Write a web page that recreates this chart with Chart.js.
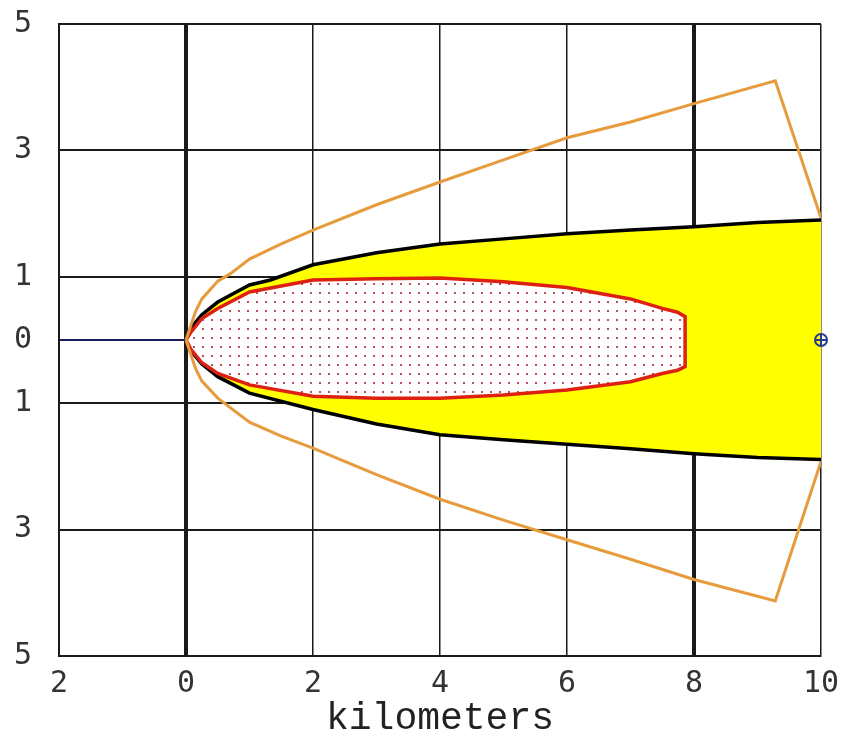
<!DOCTYPE html>
<html>
<head>
<meta charset="utf-8">
<script src="https://cdn.jsdelivr.net/npm/chart.js@4.4.1/dist/chart.umd.min.js"></script>
<style>
  html, body { margin: 0; padding: 0; background: #fff; }
  #wrap { width: 842px; height: 742px; }
</style>
</head>
<body>
<div id="wrap"><canvas id="chart" width="842" height="742"></canvas></div>
<script>
// tick positions (km)
const xTicks = [-2, 0, 2, 4, 6, 8, 10];
const yTicks = [-5, -3, -1, 0, 1, 3, 5];

// outer orange boundary
const orangeUpper = [[0,0],[0.15,0.45],[0.25,0.65],[0.5,0.93],[0.7,1.05],[1,1.28],[1.5,1.52],[2,1.74],[3,2.14],[4,2.5],[5,2.85],[6,3.2],[7,3.45],[8,3.74],[9.28,4.1],[10,1.93]];
const orangeLower = [[0,0],[0.15,-0.45],[0.25,-0.65],[0.5,-0.92],[1,-1.3],[1.5,-1.52],[2,-1.71],[3,-2.13],[4,-2.52],[5,-2.85],[6,-3.16],[7,-3.47],[8,-3.79],[9.28,-4.13],[10,-1.92]];

// black edges of the yellow zone
const blackUpper = [[0,0],[0.1,0.22],[0.25,0.4],[0.5,0.6],[1,0.87],[1.33,0.95],[2,1.19],[3,1.38],[4,1.52],[5,1.6],[6,1.68],[7,1.74],[8,1.79],[9,1.86],[10,1.9]];
const blackLower = [[0,0],[0.1,-0.2],[0.25,-0.38],[0.5,-0.58],[1,-0.84],[2,-1.1],[3,-1.33],[4,-1.5],[5,-1.58],[6,-1.65],[7,-1.72],[8,-1.8],[9,-1.86],[10,-1.89]];

// inner red zone (closed outline)
const redOutline = [[0,0],[0.08,0.13],[0.25,0.34],[0.5,0.5],[1,0.76],[2,0.95],[3,0.97],[4,0.98],[5,0.92],[6,0.83],[7,0.65],[7.5,0.5],[7.74,0.44],[7.86,0.37],[7.86,-0.42],[7.74,-0.48],[7.5,-0.53],[7,-0.66],[6,-0.79],[5,-0.87],[4,-0.92],[3,-0.92],[2,-0.89],[1,-0.71],[0.5,-0.53],[0.25,-0.36],[0.08,-0.15],[0,0]];

// marker on the right edge
const marker = [[10,0]];

const pts = arr => arr.map(p => ({ x: p[0], y: p[1] }));

// dotted fill for the red zone
const pc = document.createElement('canvas');
pc.width = 9; pc.height = 9;
const pg = pc.getContext('2d');
pg.fillStyle = '#ffffff';
pg.fillRect(0, 0, 9, 9);
pg.fillStyle = 'rgba(170,50,70,0.85)';
pg.fillRect(4, 4, 2, 2);

const ctx = document.getElementById('chart').getContext('2d');
const dots = ctx.createPattern(pc, 'repeat');

const lineBase = { pointRadius: 0, tension: 0, fill: false };

new Chart(ctx, {
  type: 'line',
  data: {
    datasets: [
      { ...lineBase, data: pts(marker), order: 0, clip: false, showLine: false,
        pointStyle: 'circle', pointRadius: 6, borderWidth: 2, borderColor: '#283c8c', backgroundColor: 'rgba(0,0,0,0)' },
      { ...lineBase, data: pts(marker), order: 0, clip: false, showLine: false,
        pointStyle: 'cross', pointRadius: 6, borderWidth: 2, borderColor: '#283c8c' },
      { ...lineBase, data: pts(orangeUpper), order: 1, borderColor: '#e69b3c', borderWidth: 3 },
      { ...lineBase, data: pts(orangeLower), order: 1, borderColor: '#e69b3c', borderWidth: 3 },
      { ...lineBase, data: pts(redOutline), order: 2, borderColor: '#dd2010', borderWidth: 3.5,
        fill: 'shape', backgroundColor: dots },
      { ...lineBase, data: pts(blackUpper), order: 4, borderColor: '#000', borderWidth: 3.5,
        fill: '+1', backgroundColor: '#ffff00' },
      { ...lineBase, data: pts(blackLower), order: 3, borderColor: '#000', borderWidth: 3.5 }
    ]
  },
  options: {
    responsive: false,
    animation: false,
    layout: { padding: { top: 24, right: 21, left: 0, bottom: 0 } },
    plugins: { legend: { display: false }, tooltip: { enabled: false } },
    scales: {
      x: {
        type: 'linear',
        min: -2,
        max: 10,
        z: 1,
        afterBuildTicks: s => { s.ticks = xTicks.map(v => ({ value: v })); },
        afterFit: s => { s.height = 86; s.paddingLeft = 0; s.paddingRight = 0; },
        ticks: {
          padding: 10,
          color: '#333',
          font: { family: 'DejaVu Sans Mono', size: 30 },
          callback: v => Math.abs(v)
        },
        grid: {
          drawTicks: false,
          color: '#1a1a1a',
          lineWidth: c => (c.tick && (c.tick.value === 0 || c.tick.value === 8)) ? 4 : 1.5
        },
        border: { color: '#1a1a1a', width: 2 },
        title: {
          display: true,
          text: 'kilometers',
          color: '#222',
          font: { family: 'Liberation Mono', size: 38, lineHeight: 1.2 },
          padding: { top: 0, bottom: 0 }
        }
      },
      y: {
        type: 'linear',
        min: -5,
        max: 5,
        z: 1,
        afterBuildTicks: s => { s.ticks = yTicks.map(v => ({ value: v })); },
        afterFit: s => { s.width = 59; s.paddingTop = 0; s.paddingBottom = 0; },
        ticks: {
          padding: 27,
          color: '#333',
          font: { family: 'DejaVu Sans Mono', size: 30 },
          callback: v => Math.abs(v)
        },
        grid: {
          drawTicks: false,
          color: c => (c.tick && c.tick.value === 0) ? '#1c1c5a' : '#1a1a1a',
          lineWidth: 2
        },
        border: { color: '#1a1a1a', width: 2 }
      }
    }
  }
});
</script>
</body>
</html>
